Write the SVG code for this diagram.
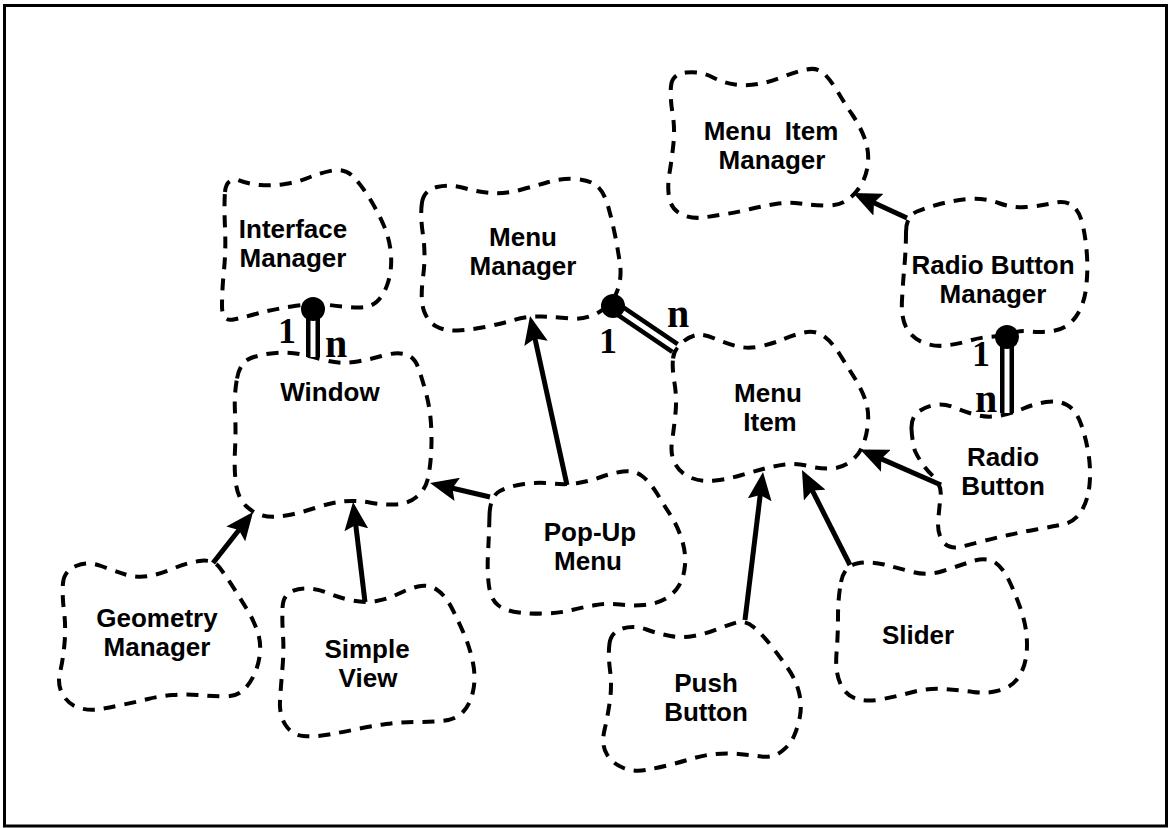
<svg xmlns="http://www.w3.org/2000/svg" width="1170" height="828" viewBox="0 0 1170 828">
  <style>
    .cloud { fill: none; stroke: #000; stroke-width: 4; stroke-dasharray: 12 9; stroke-linecap: butt; }
    .lbl { font-family: "Liberation Sans", Arial, Helvetica, sans-serif; font-size: 26px; font-weight: bold; fill: #000; text-anchor: middle; }
    .arrow { fill: none; stroke: #000; stroke-width: 5; marker-end: url(#head); }
    .aggOuter { stroke: #000; stroke-width: 14; fill: none; }
    .aggInner { stroke: #fff; stroke-width: 5; fill: none; }
    .ball { fill: #000; }
    .mult { font-family: "Liberation Serif", "Times New Roman", serif; font-weight: bold; fill: #000; text-anchor: middle; }
  </style>
  <defs>
    <marker id="head" markerUnits="userSpaceOnUse" markerWidth="28" markerHeight="24" viewBox="0 0 28 24" refX="8" refY="12" orient="auto">
      <path d="M28,12 L0,0 L5,12 L0,24 Z" fill="#000"/>
    </marker>
  </defs>

  <rect x="0" y="0" width="1170" height="828" fill="#fff"/>
  <rect x="4.5" y="5.5" width="1162" height="820.5" fill="none" stroke="#000" stroke-width="3"/>

  <g id="interface-manager">
    <path class="cloud" d="M225,192 Q226,178 238,180 Q248,184 260,185 Q272,186 285,184 Q298,182 309,177.5 Q320,173 332.5,170.5 Q345,168 353.5,177 Q362,186 370,199 Q378,212 384,226 Q390,240 391,255 Q392,270 388,282.5 Q384,295 377,301.5 Q370,308 357.5,307.5 Q345,307 329,305 Q313,303 291.5,306.5 Q270,310 257.5,313.5 Q245,317 233.5,319.5 Q222,322 222,306 Q222,290 224,270 Q226,250 225,227.5 Q224,205 225,192 Z"/>
    <text class="lbl" x="293" y="238">Interface</text>
    <text class="lbl" x="293" y="267">Manager</text>
  </g>

  <g id="menu-manager">
    <path class="cloud" d="M422,202.5 Q424,190 437,187 Q450,184 464,188 Q478,192 491.5,193 Q505,194 520,190 Q535,186 548.5,182 Q562,178 576,179 Q590,180 597,186 Q604,192 608,206 Q612,220 615,235 Q618,250 620,264 Q622,278 617,291.5 Q612,305 598.5,312.5 Q585,320 570,318.5 Q555,317 541.5,316.5 Q528,316 514,320 Q500,324 485,327 Q470,330 457.5,330.5 Q445,331 436.5,326.5 Q428,322 424,311 Q420,300 423,277.5 Q426,255 423,235 Q420,215 422,202.5 Z"/>
    <text class="lbl" x="523" y="246">Menu</text>
    <text class="lbl" x="523" y="275">Manager</text>
  </g>

  <g id="menu-item-manager">
    <path class="cloud" d="M671,86 Q672,74 686,72.5 Q700,71 712,77 Q724,83 735,84.5 Q746,86 758,84 Q770,82 782.5,77 Q795,72 806.5,69.5 Q818,67 825,74.5 Q832,82 838.5,93 Q845,104 852.5,115 Q860,126 864.5,138 Q869,150 868,162.5 Q867,175 861,185 Q855,195 846.5,200.5 Q838,206 825,205.5 Q812,205 800,203.5 Q788,202 775.5,204 Q763,206 750.5,209 Q738,212 726,214 Q714,216 703,217.5 Q692,219 682,214.5 Q672,210 669.5,199 Q667,188 669.5,173 Q672,158 673.5,143 Q675,128 672.5,113 Q670,98 671,86 Z"/>
    <text class="lbl" x="771" y="140" word-spacing="6">Menu Item</text>
    <text class="lbl" x="772" y="169">Manager</text>
  </g>

  <g id="radio-button-manager">
    <path class="cloud" d="M906,232 Q906,216 917,211.5 Q928,207 941.5,203.5 Q955,200 970,199 Q985,198 998.5,203 Q1012,208 1026,207 Q1040,206 1053,203 Q1066,200 1073,206 Q1080,212 1083,226 Q1086,240 1087,256 Q1088,272 1086,288.5 Q1084,305 1076,316.5 Q1068,328 1055,330.5 Q1042,333 1031,331.5 Q1020,330 1013,333 Q1006,336 994,336.5 Q982,337 970,340.5 Q958,344 946,345.5 Q934,347 923,342.5 Q912,338 906.5,328 Q901,318 902,300 Q903,282 904.5,265 Q906,248 906,232 Z"/>
    <text class="lbl" x="993" y="274">Radio Button</text>
    <text class="lbl" x="993" y="303">Manager</text>
  </g>

  <g id="window">
    <path class="cloud" d="M237,378.5 Q240,362 251,358 Q262,354 276,353 Q290,352 301.5,354.5 Q313,357 326.5,360.5 Q340,364 354,362 Q368,360 381.5,356 Q395,352 404.5,354 Q414,356 418,367 Q422,378 426,393 Q430,408 431,424 Q432,440 431,455 Q430,470 427.5,480 Q425,490 416.5,497 Q408,504 396,504.5 Q384,505 369.5,502.5 Q355,500 342.5,501.5 Q330,503 315,508 Q300,513 286,515.5 Q272,518 262.5,515.5 Q253,513 245.5,505.5 Q238,498 236,484 Q234,470 235,450 Q236,430 235,412.5 Q234,395 237,378.5 Z"/>
    <text class="lbl" x="330" y="401">Window</text>
  </g>

  <g id="menu-item">
    <path class="cloud" d="M673,358.5 Q674,349 682,342.5 Q690,336 697,335 Q704,334 714.5,338.5 Q725,343 736,346 Q747,349 759.5,346.5 Q772,344 782.5,339.5 Q793,335 804,332.5 Q815,330 823.5,336 Q832,342 839.5,354 Q847,366 854,377 Q861,388 865,399 Q869,410 868,422.5 Q867,435 863,445 Q859,455 850.5,461.5 Q842,468 831,468.5 Q820,469 808,466 Q796,463 785,464.5 Q774,466 763,469 Q752,472 740,475.5 Q728,479 715,480.5 Q702,482 691.5,478 Q681,474 675.5,464.5 Q670,455 672,441.5 Q674,428 675.5,413 Q677,398 674.5,383 Q672,368 673,358.5 Z"/>
    <text class="lbl" x="768" y="402">Menu</text>
    <text class="lbl" x="770" y="431">Item</text>
  </g>

  <g id="radio-button">
    <path class="cloud" d="M911.5,429 Q911,418 917.5,412.5 Q924,407 934,405 Q944,403 954.5,407.5 Q965,412 976.5,415 Q988,418 1000.5,415.5 Q1013,413 1023.5,408.5 Q1034,404 1046,402 Q1058,400 1067,405 Q1076,410 1081,424 Q1086,438 1088.5,454 Q1091,470 1089.5,485 Q1088,500 1081.5,511 Q1075,522 1062.5,524.5 Q1050,527 1036,529.5 Q1022,532 1008.5,535 Q995,538 981.5,541.5 Q968,545 960,547 Q950,549 944,543 Q938,536 938,524 Q939,510 940.5,497 Q942,486 934,477 Q922,466 915,451 Q912,440 911.5,429 Z"/>
    <text class="lbl" x="1003" y="466">Radio</text>
    <text class="lbl" x="1003" y="495">Button</text>
  </g>

  <g id="pop-up-menu">
    <path class="cloud" d="M489.5,515.5 Q490,496 500,491 Q510,486 524,484 Q538,482 552,483.5 Q566,485 578,483 Q590,481 601,477 Q612,473 623,471.5 Q634,470 642,476 Q650,482 657,493.5 Q664,505 671,516 Q678,527 682,540 Q686,553 685,565 Q684,577 679,585.5 Q674,594 665,599 Q656,604 644,605 Q632,606 620,604.5 Q608,603 596,605 Q584,607 572,610 Q560,613 546,613.5 Q532,614 519,612.5 Q506,611 498.5,605.5 Q491,600 489,586 Q487,572 488,553.5 Q489,535 489.5,515.5 Z"/>
    <text class="lbl" x="590" y="541">Pop-Up</text>
    <text class="lbl" x="588" y="570">Menu</text>
  </g>

  <g id="geometry-manager">
    <path class="cloud" d="M63,583 Q64,571 76,566 Q88,561 101,566 Q114,571 125.5,574.5 Q137,578 149,576 Q161,574 173.5,568.5 Q186,563 199.5,561 Q213,559 219.5,567.5 Q226,576 233,587 Q240,598 246.5,608.5 Q253,619 257,630 Q261,641 260,652.5 Q259,664 254.5,674 Q250,684 243,690.5 Q236,697 223,696.5 Q210,696 197.5,695 Q185,694 172.5,695 Q160,696 148,699 Q136,702 124,704.5 Q112,707 101,709 Q90,711 79.5,708 Q69,705 63,695 Q57,685 60,672.5 Q63,660 64.5,643.5 Q66,627 64,611 Q62,595 63,583 Z"/>
    <text class="lbl" x="157" y="627">Geometry</text>
    <text class="lbl" x="157" y="656">Manager</text>
  </g>

  <g id="simple-view">
    <path class="cloud" d="M282.5,608 Q283,596 290.5,592 Q298,588 308,588.5 Q318,589 329,593.5 Q340,598 352.5,600.5 Q365,603 376.5,601 Q388,599 398,594 Q408,589 418,586.5 Q428,584 436.5,589.5 Q445,595 451.5,607.5 Q458,620 464,634 Q470,648 473,663 Q476,678 473,691.5 Q470,705 462.5,712.5 Q455,720 441.5,721 Q428,722 414,722 Q400,722 386,724 Q372,726 357.5,729 Q343,732 329,734.5 Q315,737 303.5,736 Q292,735 285.5,725 Q279,715 280,700 Q281,685 282.5,667.5 Q284,650 283,635 Q282,620 282.5,608 Z"/>
    <text class="lbl" x="367" y="658">Simple</text>
    <text class="lbl" x="368" y="687">View</text>
  </g>

  <g id="push-button">
    <path class="cloud" d="M609.5,643.5 Q611,632 622.5,628.5 Q634,625 646.5,629.5 Q659,634 670.5,636 Q682,638 693.5,636 Q705,634 716.5,629.5 Q728,625 736.5,622.5 Q745,620 753.5,627 Q762,634 771,645.5 Q780,657 788,668.5 Q796,680 799,692.5 Q802,705 800,716 Q798,727 794,736 Q790,745 781.5,751.5 Q773,758 761.5,756.5 Q750,755 738.5,754 Q727,753 715.5,754 Q704,755 692.5,758.5 Q681,762 669,765 Q657,768 645.5,770 Q634,772 623.5,768 Q613,764 607,754.5 Q601,745 604.5,730 Q608,715 610,700 Q612,685 610,670 Q608,655 609.5,643.5 Z"/>
    <text class="lbl" x="706" y="692">Push</text>
    <text class="lbl" x="706" y="721">Button</text>
  </g>

  <g id="slider">
    <path class="cloud" d="M841,582 Q844,566 857,563.5 Q870,561 884,564.5 Q898,568 913,572 Q928,576 943,571 Q958,566 971.5,561.5 Q985,557 993.5,561.5 Q1002,566 1009,580.5 Q1016,595 1021.5,611.5 Q1027,628 1027,645 Q1027,662 1020.5,674 Q1014,686 1001,690 Q988,694 973,692 Q958,690 943,689 Q928,688 913,692 Q898,696 883,699 Q868,702 857,699 Q846,696 840.5,684 Q835,672 836.5,653.5 Q838,635 838,616.5 Q838,598 841,582 Z"/>
    <text class="lbl" x="918" y="644">Slider</text>
  </g>

  <g id="connectors">
    <!-- inheritance arrows -->
    <path class="arrow" d="M213,563 L240.7,527.7"/>
    <path class="arrow" d="M365,602 L355.4,521.9"/>
    <path class="arrow" d="M490,497 L449.5,487.5"/>
    <path class="arrow" d="M567,485 L534.3,335.5"/>
    <path class="arrow" d="M745,620 L760.6,491.9"/>
    <path class="arrow" d="M850,565 L811,487.9"/>
    <path class="arrow" d="M941,485 L878.5,457.6"/>
    <path class="arrow" d="M907,218 L871.2,201.4"/>

    <!-- one-to-many aggregations -->
    <g id="agg-interface-window">
      <path class="aggOuter" d="M313,309 L313,357"/>
      <path class="aggInner" d="M313,309 L313,357"/>
      <circle class="ball" cx="313" cy="309" r="12"/>
      <text class="mult" x="287" y="343" font-size="36">1</text>
      <text class="mult" x="336" y="357" font-size="40">n</text>
    </g>
    <g id="agg-menu-item">
      <path class="aggOuter" d="M613,306 L675,348"/>
      <path class="aggInner" d="M613,306 L675,348"/>
      <circle class="ball" cx="613" cy="306" r="12"/>
      <text class="mult" x="608" y="353" font-size="36">1</text>
      <text class="mult" x="678" y="327" font-size="40">n</text>
    </g>
    <g id="agg-radio">
      <path class="aggOuter" d="M1007,337 L1007,413"/>
      <path class="aggInner" d="M1007,337 L1007,413"/>
      <circle class="ball" cx="1007" cy="337" r="12"/>
      <text class="mult" x="981" y="366" font-size="36">1</text>
      <text class="mult" x="986" y="412" font-size="40">n</text>
    </g>
  </g>
</svg>
